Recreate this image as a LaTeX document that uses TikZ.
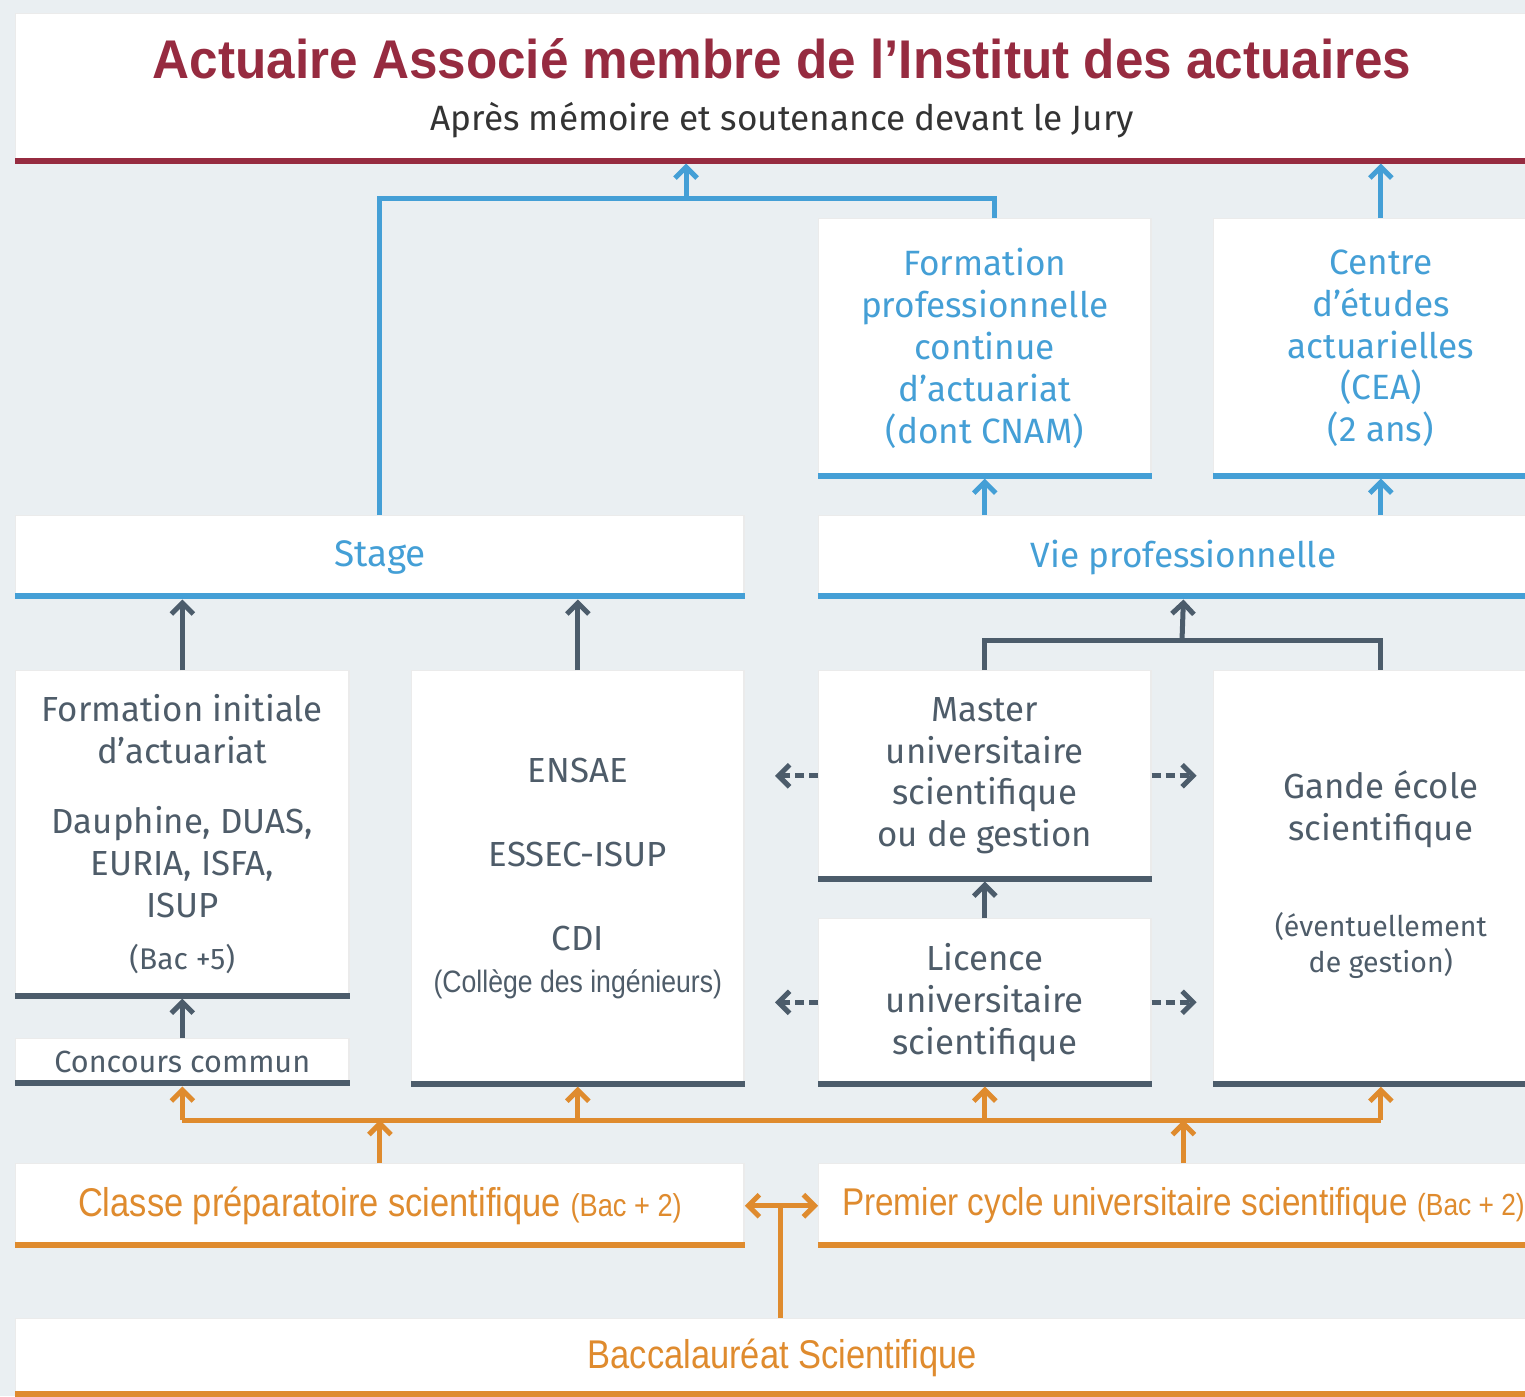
\documentclass[tikz,border=0pt]{standalone}
\usepackage{fontspec}
\setmainfont{Fira Sans}
\newfontfamily\condfont[FakeStretch=0.86]{Liberation Sans}
\newfontfamily\titlefont[FakeStretch=0.94]{Liberation Sans}
\usetikzlibrary{arrows.meta}

\definecolor{abg}{HTML}{EAEFF2}
\definecolor{ared}{HTML}{962B40}
\definecolor{ablue}{HTML}{449FD6}
\definecolor{adark}{HTML}{4C5C6B}
\definecolor{aorange}{HTML}{DF8B2E}
\definecolor{atext}{HTML}{4E5C69}

\tikzset{
  box/.style={fill=white, draw=black!8, inner sep=0pt, anchor=north west, align=center,
    text=atext, font=\fontsize{9.9}{11.9}\selectfont},
  bluebox/.style={box, text=ablue, font=\fontsize{10}{11.9}\selectfont},
  orbox/.style={box, text=aorange, font=\condfont\fontsize{11.4}{13}\selectfont},
  arr/.style={line width=.05cm, -{Straight Barb[length=.11cm,width=.22cm]}},
  bline/.style={ablue, line width=.05cm},
  dline/.style={adark, line width=.05cm},
  oline/.style={aorange, line width=.05cm},
  dasharr/.style={arr, adark, dash pattern=on .09cm off .05cm}
}

\begin{document}
\begin{tikzpicture}[x=0.01cm, y=-0.01cm]
  \fill[abg] (0,0) rectangle (1525,1396);
  \useasboundingbox (0,0) rectangle (1525,1396);
  \clip (0,0) rectangle (1525,1396);

  % top
  \node (title) [box, minimum width=15.32cm, minimum height=1.49cm] at (15,13)
    {{\titlefont\bfseries\fontsize{15.5}{17}\selectfont\color{ared}Actuaire Associé membre de l’Institut des actuaires}\\[3pt]
     {\fontsize{10}{12}\selectfont\color{black!80}Après mémoire et soutenance devant le Jury}};

  \node (fpc) [bluebox, minimum width=3.32cm, minimum height=2.59cm] at (818,218)
    {Formation\\professionnelle\\continue\\d’actuariat\\(dont CNAM)};
  \node (cea) [bluebox, minimum width=3.34cm, minimum height=2.59cm] at (1213,218)
    {Centre\\d’études\\actuarielles\\(CEA)\\(2 ans)};
  \node (stage) [bluebox, minimum width=7.28cm, minimum height=0.83cm, font=\fontsize{10.5}{12}\selectfont] at (15,515) {Stage};
  \node (vie) [bluebox, minimum width=7.29cm, minimum height=0.83cm] at (818,515) {Vie professionnelle};

  % middle
  \node (finit) [box, minimum width=3.33cm, minimum height=3.27cm] at (15,670)
    {Formation initiale\\d’actuariat\\[8pt]Dauphine, DUAS,\\EURIA, ISFA,\\ISUP\\[3pt]{\fontsize{8.5}{9}\selectfont(Bac +5)}};
  \node (ensae) [box, minimum width=3.32cm, minimum height=4.15cm] at (411,670)
    {ENSAE\\[12pt]ESSEC-ISUP\\[12pt]CDI\\{\condfont\fontsize{8.8}{9}\selectfont(Collège des ingénieurs)}};
  \node (master) [box, minimum width=3.32cm, minimum height=2.10cm] at (818,670)
    {Master\\universitaire\\scientifique\\ou de gestion};
  \node (licence) [box, minimum width=3.32cm, minimum height=1.67cm] at (818,918)
    {Licence\\universitaire\\scientifique};
  \node (grande) [box, minimum width=3.34cm, minimum height=4.15cm] at (1213,670)
    {Gande école\\scientifique\\[15.5pt]{\fontsize{8.1}{10.2}\selectfont(éventuellement}\\[-1.7pt]{\fontsize{8.1}{10.2}\selectfont de gestion)}\\[-8pt]\mbox{}};
  \node (concours) [box, minimum width=3.33cm, minimum height=0.47cm, font=\fontsize{8.7}{10}\selectfont] at (15,1038)
    {Concours commun};

  % bottom
  \node (classe) [orbox, minimum width=7.28cm, minimum height=0.84cm] at (15,1163)
    {Classe préparatoire scientifique {\fontsize{9}{10}\selectfont(Bac + 2)}};
  \node (premier) [orbox, minimum width=7.29cm, minimum height=0.84cm, font=\condfont\fontsize{11}{13}\selectfont] at (818,1163)
    {Premier cycle universitaire scientifique {\fontsize{8.7}{10}\selectfont(Bac + 2)}};
  \node (bac) [orbox, minimum width=15.32cm, minimum height=0.78cm] at (15,1318)
    {Baccalauréat Scientifique};

  \foreach \n/\c in {title/ared, fpc/ablue, cea/ablue, stage/ablue, vie/ablue,
      finit/adark, ensae/adark, master/adark, licence/adark, grande/adark, concours/adark,
      classe/aorange, premier/aorange, bac/aorange}
    \draw[\c, line width=.06cm] ([yshift=.03cm]\n.south west) -- ([yshift=.03cm]\n.south east);

  % blue links
  \coordinate (bjoin) at (686,198);
  \draw[bline] (stage.north) |- ([xshift=.1cm]fpc.north |- bjoin) -- ([xshift=.1cm]fpc.north);
  \draw[arr, ablue] (bjoin) -- (bjoin |- title.south);
  \draw[arr, ablue] (cea.north) -- (cea.north |- title.south);
  \draw[arr, ablue] (fpc.south |- vie.north) -- (fpc.south);
  \draw[arr, ablue] (cea.south |- vie.north) -- (cea.south);

  % dark links
  \coordinate (djoin) at (1182,640);
  \draw[arr, adark] (finit.north) -- (finit.north |- stage.south);
  \draw[arr, adark] (ensae.north) -- (ensae.north |- stage.south);
  \draw[dline] (master.north) |- (djoin) -| (grande.north);
  \draw[arr, adark] (djoin) -- (vie.south);
  \draw[arr, adark] (concours.north) -- (finit.south);
  \draw[arr, adark] (licence.north) -- (master.south);
  \draw[dasharr] (master.west) -- ++(-43,0);
  \draw[dasharr] (master.east) -- ++(45,0);
  \draw[dasharr] (licence.west) -- ++(-43,0);
  \draw[dasharr] (licence.east) -- ++(45,0);

  % orange links
  \coordinate (ojoin) at (0,1120);
  \draw[oline] (concours.south |- ojoin) -- (grande.south |- ojoin);
  \foreach \n in {concours, ensae, licence, grande}
    \draw[arr, aorange] (\n.south |- ojoin) -- (\n.south);
  \draw[arr, aorange] (classe.north) -- (classe.north |- ojoin);
  \draw[arr, aorange] (premier.north) -- (premier.north |- ojoin);
  \coordinate (osplit) at (780,1205);
  \draw[oline] (osplit |- bac.north) -- (osplit);
  \draw[aorange, line width=.05cm, {Straight Barb[length=.11cm,width=.22cm]}-{Straight Barb[length=.11cm,width=.22cm]}] (classe.east) -- (premier.west);
\end{tikzpicture}
\end{document}
